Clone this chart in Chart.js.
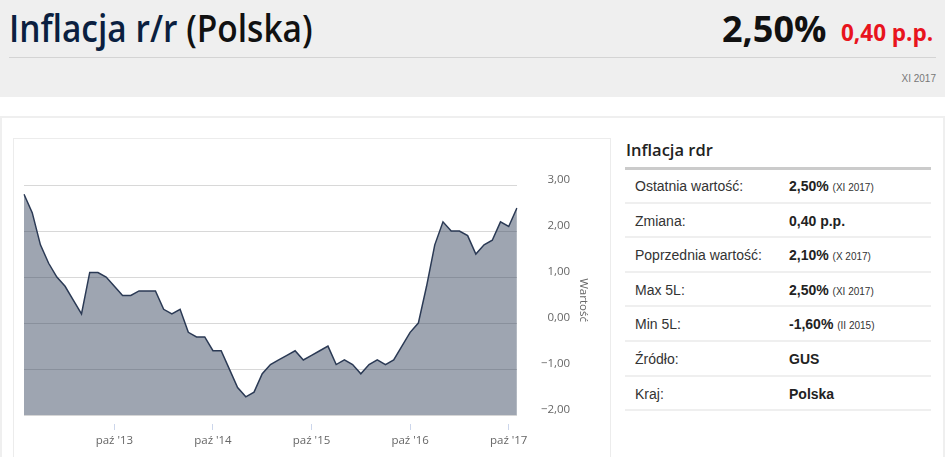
<!DOCTYPE html>
<html lang="pl">
<head>
<meta charset="utf-8">
<title>Inflacja r/r (Polska)</title>
<script src="https://cdn.jsdelivr.net/npm/chart.js@4.4.1/dist/chart.umd.min.js"></script>
<style>
  html, body { margin: 0; padding: 0; }
  body { width: 945px; height: 457px; overflow: hidden; background: #fff; position: relative; font-family: "Liberation Sans", Arial, sans-serif; }
  .head { position: absolute; left: 0; top: 0; width: 945px; height: 97px; background: #efefef; }
  .title { position: absolute; left: 9px; top: 9px; font-family: "Open Sans", sans-serif; font-weight: 600; font-size: 37px; line-height: 1; color: #0b1f40; white-space: nowrap; transform: scaleX(0.905); transform-origin: left top; }
  .title span { color: #111; }
  .big { position: absolute; left: 722px; top: 11px; font-family: "Open Sans", sans-serif; font-weight: 700; font-size: 36px; line-height: 1; color: #111; white-space: nowrap; }
  .chg { position: absolute; left: 841px; top: 22px; font-family: "Open Sans", sans-serif; font-weight: 700; font-size: 22.5px; line-height: 1; color: #e8141d; white-space: nowrap; }
  .hline { position: absolute; left: 9px; top: 57px; width: 927px; height: 1px; background: #d4d4d4; }
  .date { position: absolute; right: 9px; top: 74px; font-size: 10px; line-height: 1; color: #777; }
  .panel { position: absolute; left: 0; top: 116px; width: 945px; height: 360px; box-sizing: border-box; border: 2px solid #efefef; }
  .chartbox { position: absolute; left: 13px; top: 138px; width: 598px; height: 340px; box-sizing: border-box; border: 1px solid #ececec; }
  .chartwrap { position: absolute; left: 15px; top: 140px; width: 594px; height: 317px; }
  .tbl { position: absolute; left: 625px; top: 0; width: 306px; }
  .tbl h3 { position: absolute; left: 1px; top: 142px; margin: 0; font-family: "Open Sans", sans-serif; font-weight: 600; font-size: 16.5px; line-height: 1; color: #222; white-space: nowrap; }
  .tbl .uline { position: absolute; left: 0; top: 166.5px; width: 306px; height: 3px; background: #cbcbcb; }
  .rows { position: absolute; left: 0; top: 169px; width: 306px; }
  .row { position: relative; height: 34.6px; box-sizing: border-box; border-bottom: 2px solid #efefef; font-size: 14px; line-height: 14px; color: #333; }
  .row .k { position: absolute; left: 10px; top: 10px; }
  .row .v { position: absolute; left: 164px; top: 10px; font-weight: bold; color: #222; white-space: nowrap; }
  .row .v small { font-weight: normal; font-size: 10px; color: #333; }
</style>
</head>
<body>
<div class="head">
  <div class="title">Inflacja r/r <span>(Polska)</span></div>
  <div class="big">2,50%</div>
  <div class="chg">0,40 p.p.</div>
  <div class="hline"></div>
  <div class="date">XI 2017</div>
</div>
<div class="panel"></div>
<div class="chartbox"></div>
<div class="chartwrap"><canvas id="chart"></canvas></div>
<div class="tbl">
  <h3>Inflacja rdr</h3>
  <div class="uline"></div>
  <div class="rows" id="rows"></div>
</div>
<script>
// Months shown on the chart (XI 2012 - XI 2017)
const categories = [
    '2012-11', '2012-12',
    '2013-01', '2013-02', '2013-03', '2013-04', '2013-05', '2013-06', '2013-07', '2013-08', '2013-09', '2013-10', '2013-11', '2013-12',
    '2014-01', '2014-02', '2014-03', '2014-04', '2014-05', '2014-06', '2014-07', '2014-08', '2014-09', '2014-10', '2014-11', '2014-12',
    '2015-01', '2015-02', '2015-03', '2015-04', '2015-05', '2015-06', '2015-07', '2015-08', '2015-09', '2015-10', '2015-11', '2015-12',
    '2016-01', '2016-02', '2016-03', '2016-04', '2016-05', '2016-06', '2016-07', '2016-08', '2016-09', '2016-10', '2016-11', '2016-12',
    '2017-01', '2017-02', '2017-03', '2017-04', '2017-05', '2017-06', '2017-07', '2017-08', '2017-09', '2017-10', '2017-11'
];

// Inflation y/y, %
const values = [
    2.8, 2.4,
    1.7, 1.3, 1.0, 0.8, 0.5, 0.2, 1.1, 1.1, 1.0, 0.8, 0.6, 0.6,
    0.7, 0.7, 0.7, 0.3, 0.2, 0.3, -0.2, -0.3, -0.3, -0.6, -0.6, -1.0,
    -1.4, -1.6, -1.5, -1.1, -0.9, -0.8, -0.7, -0.6, -0.8, -0.7, -0.6, -0.5,
    -0.9, -0.8, -0.9, -1.1, -0.9, -0.8, -0.9, -0.8, -0.5, -0.2, 0.0, 0.8,
    1.7, 2.2, 2.0, 2.0, 1.9, 1.5, 1.7, 1.8, 2.2, 2.1, 2.5
];

// X axis ticks
const tickMonths = ['2013-10', '2014-10', '2015-10', '2016-10', '2017-10'];
const tickLabels = ["paź '13", "paź '14", "paź '15", "paź '16", "paź '17"];

// Side table
const tableLabels = ['Ostatnia wartość:', 'Zmiana:', 'Poprzednia wartość:', 'Max 5L:', 'Min 5L:', 'Źródło:', 'Kraj:'];
const tableValues = ['2,50%', '0,40 p.p.', '2,10%', '2,50%', '-1,60%', 'GUS', 'Polska'];
const tableNotes = ['(XI 2017)', '', '(X 2017)', '(XI 2017)', '(II 2015)', '', ''];

const rowsEl = document.getElementById('rows');
tableLabels.forEach((label, i) => {
    const row = document.createElement('div');
    row.className = 'row';
    row.innerHTML = '<span class="k">' + label + '</span><span class="v">' + tableValues[i] +
        (tableNotes[i] ? ' <small>' + tableNotes[i] + '</small>' : '') + '</span>';
    rowsEl.appendChild(row);
});

const axisFont = { family: '"Open Sans", sans-serif', size: 11.5 };

function fmt(v) {
    const s = Math.abs(v).toFixed(2).replace('.', ',');
    return v < 0 ? '\u2212' + s : s;
}

new Chart(document.getElementById('chart'), {
    type: 'line',
    data: {
        labels: categories,
        datasets: [{
            label: 'Wartość',
            data: values,
            borderColor: '#2b3a55',
            borderWidth: 1.5,
            backgroundColor: 'rgba(43,58,85,0.46)',
            fill: 'start',
            pointRadius: 0,
            tension: 0
        }]
    },
    options: {
        responsive: true,
        maintainAspectRatio: false,
        animation: false,
        layout: { padding: { left: 9, top: 45, right: 13, bottom: 5 } },
        plugins: {
            legend: { display: false },
            tooltip: { enabled: false }
        },
        scales: {
            x: {
                type: 'category',
                offset: false,
                border: { display: false },
                grid: {
                    drawOnChartArea: false,
                    drawTicks: true,
                    tickLength: 15,
                    tickColor: '#ccd6eb',
                    tickBorderDash: [0, 9, 6, 40]
                },
                afterBuildTicks: scale => {
                    scale.ticks = scale.ticks.filter(t => tickMonths.includes(categories[t.value]));
                },
                ticks: {
                    autoSkip: false,
                    maxRotation: 0,
                    padding: 4,
                    color: '#666',
                    font: axisFont,
                    callback: value => tickLabels[tickMonths.indexOf(categories[value])]
                }
            },
            y: {
                position: 'right',
                weight: 0,
                min: -2,
                max: 3,
                border: { display: false },
                grid: { color: '#d8d8d8', drawTicks: false },
                ticks: {
                    stepSize: 1,
                    padding: 12,
                    labelOffset: -5,
                    crossAlign: 'far',
                    color: '#666',
                    font: axisFont,
                    callback: v => fmt(v)
                }
            },
            // outer right axis only carries the "Wartość" title
            yTitle: {
                type: 'linear',
                position: 'right',
                weight: 1,
                border: { display: false },
                grid: { display: false, drawTicks: false },
                ticks: { display: false },
                title: {
                    display: true,
                    text: 'Wartość',
                    color: '#666',
                    font: axisFont,
                    padding: 6
                }
            }
        }
    }
});
</script>
</body>
</html>
